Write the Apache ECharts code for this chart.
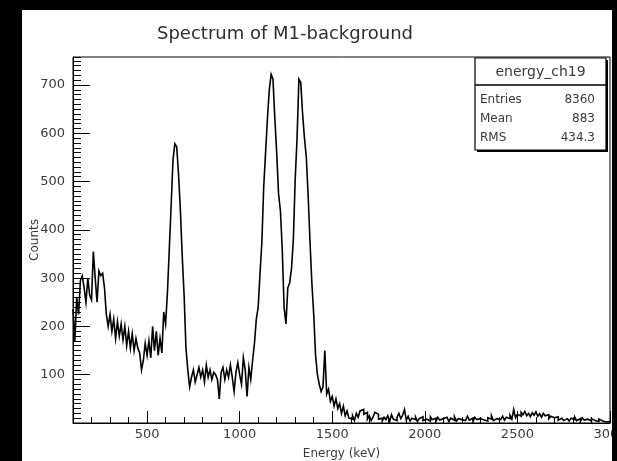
<!DOCTYPE html>
<html>
<head>
<meta charset="utf-8">
<title>Spectrum of M1-background</title>
<script src="https://cdn.jsdelivr.net/npm/echarts@6/dist/echarts.min.js"></script>
<style>
  html, body { margin: 0; padding: 0; background: #000; width: 617px; height: 461px; overflow: hidden; }
  #chart { position: absolute; left: 22px; top: 10px; width: 590px; height: 451px; background: #fff; }
</style>
</head>
<body>
<div id="chart"></div>
<script>
// Histogram binning (keV)
const binStart = 100;
const binWidth = 10;

// Bin contents, 10 keV per bin
const counts100to590 = [
  235, 170, 260, 225, 295, 305, 280, 250, 300, 265,
  255, 355, 300, 250, 315, 305, 310, 280, 225, 200,
  225, 190, 215, 175, 210, 180, 205, 172, 200, 160,
  190, 155, 185, 150, 175, 155, 145, 110, 130, 165,
  140, 170, 135, 200, 150, 190, 140, 175, 145, 230
];
const counts600to1070 = [
  205, 270, 360, 450, 545, 578, 572, 515, 440, 345,
  265, 155, 110, 75, 95, 110, 85, 100, 115, 95,
  110, 85, 120, 95, 110, 90, 105, 100, 90, 50,
  105, 115, 90, 110, 95, 120, 95, 65, 105, 125,
  100, 80, 135, 110, 55, 115, 90, 130
];
const counts1080to1590 = [
  165, 215, 240, 310, 375, 490, 560, 630, 690, 722,
  712, 630, 560, 475, 440, 360, 240, 205, 280, 290,
  320, 380, 505, 590, 712, 705, 640, 590, 550, 470,
  375, 290, 225, 140, 100, 80, 65, 75, 150, 60,
  70, 45, 55, 35, 50, 30, 40, 20, 35, 15, 25, 10
];
const counts1600to2990 = [
  8, 15, 5, 20, 12, 25, 28, 18, 22, 8,
  15, 5, 12, 22, 18, 8, 10, 4, 12, 7,
  15, 3, 17, 8, 5, 12, 20, 9, 16, 28,
  6, 14, 4, 10, 7, 12, 3, 9, 13, 5,
  8, 11, 4, 13, 7, 10, 3, 12, 6, 9,
  5, 12, 8, 3, 10, 6, 13, 4, 9, 7,
  11, 5, 8, 14, 6, 10, 3, 12, 7, 9,
  13, 6, 10, 4, 11, 8, 15, 5, 9, 12,
  7, 10, 14, 6, 12, 9, 16, 8, 28, 11,
  18, 14, 22, 17, 24, 15, 20, 13, 21, 16,
  23, 14, 19, 12, 20, 15, 17, 9, 14, 11,
  8, 13, 6, 10, 12, 5, 9, 11, 4, 10,
  7, 12, 5, 9, 3, 11, 6, 8, 10, 4,
  9, 5, 7, 3, 8, 4, 6, 2, 5, 3
];

// Axis ranges and labelled ticks
const xRange = [100, 3000];
const xMajorTicks = [500, 1000, 1500, 2000, 2500, 3000];
const yRange = [0, 758];

// Texts
const chartTitle = 'Spectrum of M1-background';
const xTitle = 'Energy (keV)';
const yTitle = 'Counts';
const statsName = 'energy_ch19';
const statsLabels = ['Entries', 'Mean', 'RMS'];
const statsValues = ['8360', '883', '434.3'];

const counts = [].concat(counts100to590, counts600to1070, counts1080to1590, counts1600to2990);
const histPoints = counts.map((c, i) => [binStart + i * binWidth, c]);
histPoints.push([binStart + counts.length * binWidth, counts[counts.length - 1]]);

const FONT = 'DejaVu Sans';
const TEXT = '#3a3a3a';
const plain = v => String(v);

const chart = echarts.init(document.getElementById('chart'), null, { renderer: 'canvas' });

// Stats box geometry
const box = { x: 453, y: 48, w: 131, h: 92, head: 27 };
const statsGraphics = [
  { type: 'rect', shape: { x: box.x + 2, y: box.y + 2, width: box.w, height: box.h }, style: { fill: '#000' }, z: 100 },
  { type: 'rect', shape: { x: box.x, y: box.y, width: box.w, height: box.h }, style: { fill: '#fff', stroke: '#000', lineWidth: 1.2 }, z: 101 },
  { type: 'line', shape: { x1: box.x, y1: box.y + box.head, x2: box.x + box.w, y2: box.y + box.head }, style: { stroke: '#000', lineWidth: 1.5 }, z: 102 },
  { type: 'text', x: box.x + box.w / 2, y: box.y + box.head / 2 + 1, style: { text: statsName, font: '14px "' + FONT + '"', fill: TEXT, align: 'center', verticalAlign: 'middle' }, z: 103 }
];
statsLabels.forEach((lab, i) => {
  const y = box.y + 42 + i * 19;
  statsGraphics.push({ type: 'text', x: box.x + 5, y: y, style: { text: lab, font: '12px "' + FONT + '"', fill: TEXT, align: 'left', verticalAlign: 'middle' }, z: 103 });
  statsGraphics.push({ type: 'text', x: box.x + box.w - 11, y: y, style: { text: statsValues[i], font: '12px "' + FONT + '"', fill: TEXT, align: 'right', verticalAlign: 'middle' }, z: 103 });
});

chart.setOption({
  animation: false,
  backgroundColor: '#fff',
  grid: {
    left: 51, right: 2, top: 47, bottom: 38,
    containLabel: false, outerBoundsMode: 'none',
    show: true, borderColor: '#000', borderWidth: 1, backgroundColor: 'transparent'
  },
  xAxis: [
    {
      type: 'value', min: xRange[0], max: xRange[1], position: 'bottom',
      axisLine: { show: true, lineStyle: { color: '#000', width: 1 } },
      axisTick: { show: true, inside: true, length: 12, lineStyle: { color: '#000', width: 1 }, customValues: xMajorTicks },
      axisLabel: { customValues: xMajorTicks, formatter: plain, fontFamily: FONT, fontSize: 13, color: TEXT, margin: 5 },
      splitLine: { show: false },
      name: xTitle, nameLocation: 'middle', nameGap: 25, nameMoveOverlap: false,
      nameTextStyle: { fontFamily: FONT, fontSize: 12, color: TEXT }
    },
    {
      type: 'value', min: xRange[0], max: xRange[1], interval: 100, position: 'bottom',
      axisLine: { show: false },
      axisTick: { show: true, inside: true, length: 6, lineStyle: { color: '#000', width: 1 } },
      axisLabel: { show: false },
      splitLine: { show: false }
    }
  ],
  yAxis: [
    {
      type: 'value', min: yRange[0], max: yRange[1], interval: 100, position: 'left',
      axisLine: { show: true, lineStyle: { color: '#000', width: 1 } },
      axisTick: { show: true, inside: true, length: 17, lineStyle: { color: '#000', width: 1 } },
      axisLabel: { formatter: plain, fontFamily: FONT, fontSize: 13, color: TEXT, margin: 8, showMaxLabel: false, showMinLabel: false },
      splitLine: { show: false },
      name: yTitle, nameLocation: 'middle', nameGap: 32, nameMoveOverlap: false,
      nameTextStyle: { fontFamily: FONT, fontSize: 12, color: TEXT }
    },
    {
      type: 'value', min: yRange[0], max: yRange[1], interval: 10, position: 'left',
      axisLine: { show: false },
      axisTick: { show: true, inside: true, length: 8, lineStyle: { color: '#000', width: 1 } },
      axisLabel: { show: false },
      splitLine: { show: false }
    }
  ],
  series: [{
    type: 'line',
    xAxisIndex: 0, yAxisIndex: 0,
    data: histPoints,
    step: 'end',
    showSymbol: false,
    symbol: 'none',
    clip: true,
    lineStyle: { color: '#000', width: 1.6, join: 'miter', cap: 'butt' },
    z: 5
  }],
  graphic: [
    { type: 'text', x: 263, y: 24, style: { text: chartTitle, font: '18px "' + FONT + '"', fill: '#2e2e2e', align: 'center', verticalAlign: 'middle' }, z: 100 }
  ].concat(statsGraphics)
});
</script>
</body>
</html>
